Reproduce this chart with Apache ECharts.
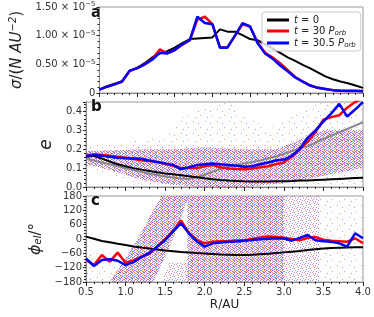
<!DOCTYPE html>
<html><head><meta charset="utf-8">
<script src="https://cdn.jsdelivr.net/npm/echarts@6/dist/echarts.min.js"></script>
<style>html,body{margin:0;padding:0;background:#fff}#c{width:374px;height:317px}</style>
</head><body><div id="c"></div>
<script>
// radius grid (AU)
const R = [0.5,0.6,0.7,0.8,0.9,1.0,1.1,1.2,1.3,1.4,1.5,1.6,1.7,1.8,1.9,2.0,2.1,2.2,2.3,2.4,2.5,2.6,2.7,2.8,2.9,3.0,3.1,3.2,3.3,3.4,3.5,3.6,3.7,3.8,3.9,4.0];
// panel a: surface density (units of 1e-5 N AU^-2)
const sigmaT0   = [0.06,0.12,0.16,0.20,0.38,0.44,0.52,0.62,0.69,0.73,0.79,0.87,0.94,0.95,0.96,0.97,1.11,1.07,1.07,1.01,0.94,0.92,0.85,0.78,0.70,0.62,0.56,0.49,0.43,0.36,0.29,0.24,0.20,0.17,0.13,0.09];
const sigmaT30  = [0.06,0.11,0.15,0.20,0.38,0.44,0.50,0.59,0.76,0.69,0.75,0.84,0.92,1.28,1.33,1.20,0.80,0.80,1.00,1.20,1.16,0.88,0.70,0.62,0.52,0.40,0.28,0.20,0.13,0.09,0.07,0.05,0.04,0.04,0.04,0.035];
const sigmaT305 = [0.06,0.11,0.15,0.20,0.39,0.43,0.50,0.58,0.70,0.69,0.75,0.85,0.92,1.33,1.22,1.20,0.79,0.79,1.00,1.22,1.16,0.87,0.69,0.60,0.48,0.38,0.27,0.20,0.13,0.09,0.07,0.05,0.04,0.035,0.035,0.03];
// panel b: eccentricity
const eT0    = [0.160,0.165,0.150,0.135,0.120,0.110,0.100,0.092,0.085,0.078,0.072,0.067,0.062,0.057,0.052,0.046,0.041,0.037,0.034,0.032,0.030,0.029,0.029,0.029,0.030,0.031,0.032,0.034,0.035,0.037,0.039,0.041,0.043,0.045,0.047,0.049];
const eForced= [0.150,0.140,0.130,0.120,0.110,0.100,0.090,0.080,0.070,0.063,0.055,0.050,0.045,0.043,0.050,0.065,0.080,0.095,0.107,0.116,0.125,0.133,0.140,0.152,0.163,0.175,0.190,0.205,0.215,0.235,0.255,0.272,0.290,0.307,0.325,0.343];
const eT30   = [0.165,0.173,0.170,0.165,0.160,0.155,0.148,0.142,0.137,0.133,0.122,0.112,0.101,0.100,0.100,0.110,0.116,0.105,0.098,0.095,0.094,0.098,0.105,0.110,0.120,0.130,0.160,0.200,0.240,0.290,0.356,0.370,0.380,0.420,0.450,0.470];
const eT305  = [0.163,0.170,0.165,0.160,0.155,0.152,0.151,0.150,0.140,0.132,0.125,0.117,0.095,0.105,0.116,0.120,0.125,0.120,0.116,0.112,0.107,0.110,0.120,0.130,0.140,0.145,0.165,0.200,0.260,0.300,0.347,0.390,0.440,0.373,0.410,0.450];
// panel c: longitude of pericentre (deg)
const phiT0   = [10,1,-8,-14,-20,-25,-31,-36,-40,-44,-48,-51,-54,-56,-59,-61,-63,-65,-66,-67,-67,-66,-64,-62,-59,-56,-53,-50,-46,-43,-40,-38,-37,-36,-35,-35];
const phiT30  = [-88,-109,-67,-95,-57,-99,-90,-73,-62,-30,0,35,78,25,-5,-18,-11,-9,-8,-6,-5,0,6,10,8,5,0,-5,5,8,-3,-7,-9,-11,3,-18];
const phiT305 = [-81,-113,-88,-85,-91,-109,-97,-76,-58,-33,-5,31,66,24,-10,-32,-18,-15,-12,-10,-7,-4,-1,1,3,2,-7,5,17,-5,-9,-12,-18,-32,24,3];
// particle clouds (outlines)
const cloudB_denseR = [0.5,0.8,1.2,1.6,2.0,2.5,2.9,3.2,3.5,4.0,4.0,3.5,3.0,2.5,2.0,1.6,1.2,0.8,0.5];
const cloudB_denseE = [0.19,0.195,0.20,0.20,0.21,0.20,0.20,0.25,0.30,0.30,0.10,0.06,0.02,0.0,0.0,0.01,0.04,0.09,0.12];
const cloudB_sparseR = [0.5,1.0,1.5,1.8,2.3,2.8,3.2,3.5,4.0,4.0,1.4,1.0,0.5];
const cloudB_sparseE = [0.22,0.24,0.26,0.40,0.45,0.30,0.40,0.45,0.45,0.0,0.0,0.03,0.10];
const cloudC_leftR = [0.5,1.0,1.0,0.5];
const cloudC_leftP = [-180,-180,-50,-50];
const cloudC_diagR = [0.8,1.15,1.45,1.8,1.6,1.35];
const cloudC_diagP = [-180,0,180,180,0,-180];
const cloudC_wrapR = [1.45,1.8,1.8,1.55];
const cloudC_wrapP = [-180,-180,-100,-100];
const cloudC_denseR = [1.78,3.0,3.0,1.78];
const cloudC_denseP = [-180,-180,180,180];
const cloudC_midR = [3.0,3.45,3.45,3.0];
const cloudC_midP = [-180,-180,180,180];
const cloudC_sparseR = [3.45,4.0,4.0,3.45];
const cloudC_sparseP = [-180,-180,180,180];

const zip = (xs, ys) => xs.map((x, i) => [x, ys[i]]);
const FONT = 'DejaVu Sans';
const chart = echarts.init(document.getElementById('c'), null, {renderer: 'canvas'});

// speckle fill textures (fixed pixel layouts, styling only)
function tile(size, reds, blues, alpha) {
  const c = document.createElement('canvas');
  c.width = size; c.height = size;
  const g = c.getContext('2d');
  g.fillStyle = 'rgba(255,40,40,' + alpha + ')';
  reds.forEach(p => g.fillRect(p[0], p[1], 1, 1));
  g.fillStyle = 'rgba(40,40,255,' + alpha + ')';
  blues.forEach(p => g.fillRect(p[0], p[1], 1, 1));
  return {image: c, repeat: 'repeat'};
}
const DENSE = tile(6, [[0,0],[3,0],[5,1],[2,2],[0,3],[4,3],[1,5],[4,5]], [[1,1],[4,1],[0,2],[5,2],[2,4],[5,4],[3,3],[0,5],[2,0]], 0.6);
const MID = tile(8, [[0,0],[5,2],[2,5],[7,6],[4,4],[1,2]], [[3,1],[6,4],[1,3+4],[4,7],[6,0],[2,3]], 0.5);
const SPARSE = tile(12, [[1,1],[8,7]], [[6,3],[3,9]], 0.45);

const grids = [
  {left: 86, right: 11, top: 7, height: 86},
  {left: 86, right: 11, top: 102, height: 85},
  {left: 86, right: 11, top: 196, height: 86}
].map(g => Object.assign(g, {show: true, borderColor: '#999', borderWidth: 1, backgroundColor: 'transparent'}));

function xAx(i) {
  return {
    gridIndex: i, type: 'value', min: 0.5, max: 4.0, interval: 0.5,
    axisLine: {show: true, onZero: false, lineStyle: {color: '#888'}},
    axisTick: {show: true, length: 4, lineStyle: {color: '#222'}},
    minorTick: {show: true, splitNumber: 5, length: 2, lineStyle: {color: '#222'}},
    splitLine: {show: false},
    axisLabel: {show: i === 2, fontFamily: FONT, fontSize: 10, color: '#333', margin: 5, formatter: v => v.toFixed(1)},
    name: i === 2 ? 'R/AU' : '', nameLocation: 'middle', nameGap: 17,
    nameTextStyle: {fontFamily: FONT, fontSize: 12, color: '#222'}
  };
}
function yAx(i, o) {
  return Object.assign({
    gridIndex: i, type: 'value',
    axisLine: {show: true, onZero: false, lineStyle: {color: '#888'}},
    axisTick: {show: true, length: 3, lineStyle: {color: '#222'}},
    minorTick: {show: true, splitNumber: 5, length: 2, lineStyle: {color: '#222'}},
    splitLine: {show: false},
    nameLocation: 'middle', nameRotate: 90
  }, o);
}
function poly(i, xs, ys, fill) {
  return {
    type: 'custom', xAxisIndex: i, yAxisIndex: i, silent: true, z: 1,
    data: [[xs[0], ys[0]]],
    renderItem: (params, api) => {
      const pts = xs.map((x, k) => api.coord([x, ys[k]]));
      return {type: 'polygon', shape: {points: echarts.graphic.clipPointsByRect(pts, params.coordSys)}, style: {fill: fill}};
    }
  };
}
function line(i, name, ys, color, w, z) {
  return {type: 'line', name: name, xAxisIndex: i, yAxisIndex: i, data: zip(R, ys), showSymbol: false, symbol: 'none',
    lineStyle: {color: color, width: w}, itemStyle: {color: color}, z: z, animation: false, clip: true};
}

const labStyle = {fontFamily: FONT, fontSize: 10, color: '#333'};
const option = {
  animation: false,
  grid: grids,
  xAxis: [xAx(0), xAx(1), xAx(2)],
  yAxis: [
    yAx(0, {min: 0, max: 1.5, interval: 0.5,
      axisLabel: Object.assign({}, labStyle, {margin: 4,
        formatter: v => v === 0 ? '0' : v.toFixed(2) + ' × 10{s|−5}',
        rich: {s: {fontFamily: FONT, fontSize: 7, color: '#333', verticalAlign: 'top', padding: [0, 0, 5, 0]}}}),
      name: '{i|σ}/({i|N AU}{s|−2})', nameGap: 66,
      nameTextStyle: {fontFamily: FONT, fontSize: 15, color: '#222',
        rich: {i: {fontFamily: FONT, fontStyle: 'italic', fontSize: 15, color: '#222'},
               s: {fontFamily: FONT, fontStyle: 'italic', fontSize: 10, color: '#222', padding: [0, 0, 8, 0]}}}}),
    yAx(1, {min: 0, max: 0.45, interval: 0.1,
      axisLabel: Object.assign({}, labStyle, {margin: 4, showMaxLabel: false, formatter: v => v > 0.44 ? '' : v.toFixed(1)}),
      name: 'e', nameGap: 21,
      nameTextStyle: {fontFamily: FONT, fontStyle: 'italic', fontSize: 17, color: '#222'}}),
    yAx(2, {min: -180, max: 180, interval: 60,
      axisLabel: Object.assign({}, labStyle, {margin: 4, formatter: v => String(v).replace('-', '−')}),
      name: '{i|ϕ}{s|el}/°', nameGap: 33,
      nameTextStyle: {fontFamily: FONT, fontSize: 15, color: '#222',
        rich: {i: {fontFamily: FONT, fontStyle: 'italic', fontSize: 16, color: '#222'},
               s: {fontFamily: FONT, fontStyle: 'italic', fontSize: 10, color: '#222', padding: [6, 0, 0, 0]}}}})
  ],
  legend: {
    left: 262, top: 12, orient: 'vertical', icon: 'rect', itemWidth: 22, itemHeight: 3, itemGap: 1,
    padding: [3, 5, 2, 5], backgroundColor: 'rgba(255,255,255,0.8)', borderColor: '#ccc', borderWidth: 1, borderRadius: 3,
    data: ['t0', 't30', 't305'],
    formatter: n => n === 't0' ? '{i|t} = 0' : (n === 't30' ? '{i|t} = 30 {i|P}{s|orb}' : '{i|t} = 30.5 {i|P}{s|orb}'),
    textStyle: {fontFamily: FONT, fontSize: 10, color: '#222',
      rich: {i: {fontFamily: FONT, fontStyle: 'italic', fontSize: 10, color: '#222'},
             s: {fontFamily: FONT, fontStyle: 'italic', fontSize: 7, color: '#222', padding: [5, 0, 0, 0]}}}
  },
  graphic: [
    {type: 'text', left: 91, top: 6, style: {text: 'a', font: 'bold 15px DejaVu Sans', fill: '#111'}},
    {type: 'text', left: 91, top: 100, style: {text: 'b', font: 'bold 15px DejaVu Sans', fill: '#111'}},
    {type: 'text', left: 91, top: 194, style: {text: 'c', font: 'bold 15px DejaVu Sans', fill: '#111'}}
  ],
  series: [
    line(0, 't0', sigmaT0, '#000', 2, 3),
    line(0, 't30', sigmaT30, '#ff0000', 2.5, 4),
    line(0, 't305', sigmaT305, '#0000ff', 2.5, 5),
    poly(1, cloudB_sparseR, cloudB_sparseE, SPARSE),
    poly(1, cloudB_denseR, cloudB_denseE, DENSE),
    line(1, 'forced', eForced, '#888', 2, 3),
    line(1, 't0', eT0, '#000', 2, 3),
    line(1, 't30', eT30, '#ff0000', 2.5, 4),
    line(1, 't305', eT305, '#0000ff', 2.5, 5),
    poly(2, cloudC_leftR, cloudC_leftP, SPARSE),
    poly(2, cloudC_diagR, cloudC_diagP, DENSE),
    poly(2, cloudC_wrapR, cloudC_wrapP, MID),
    poly(2, cloudC_denseR, cloudC_denseP, DENSE),
    poly(2, cloudC_midR, cloudC_midP, MID),
    poly(2, cloudC_sparseR, cloudC_sparseP, SPARSE),
    line(2, 't0', phiT0, '#000', 2, 3),
    line(2, 't30', phiT30, '#ff0000', 2.5, 4),
    line(2, 't305', phiT305, '#0000ff', 2.5, 5)
  ]
};
chart.setOption(option);
</script></body></html>
